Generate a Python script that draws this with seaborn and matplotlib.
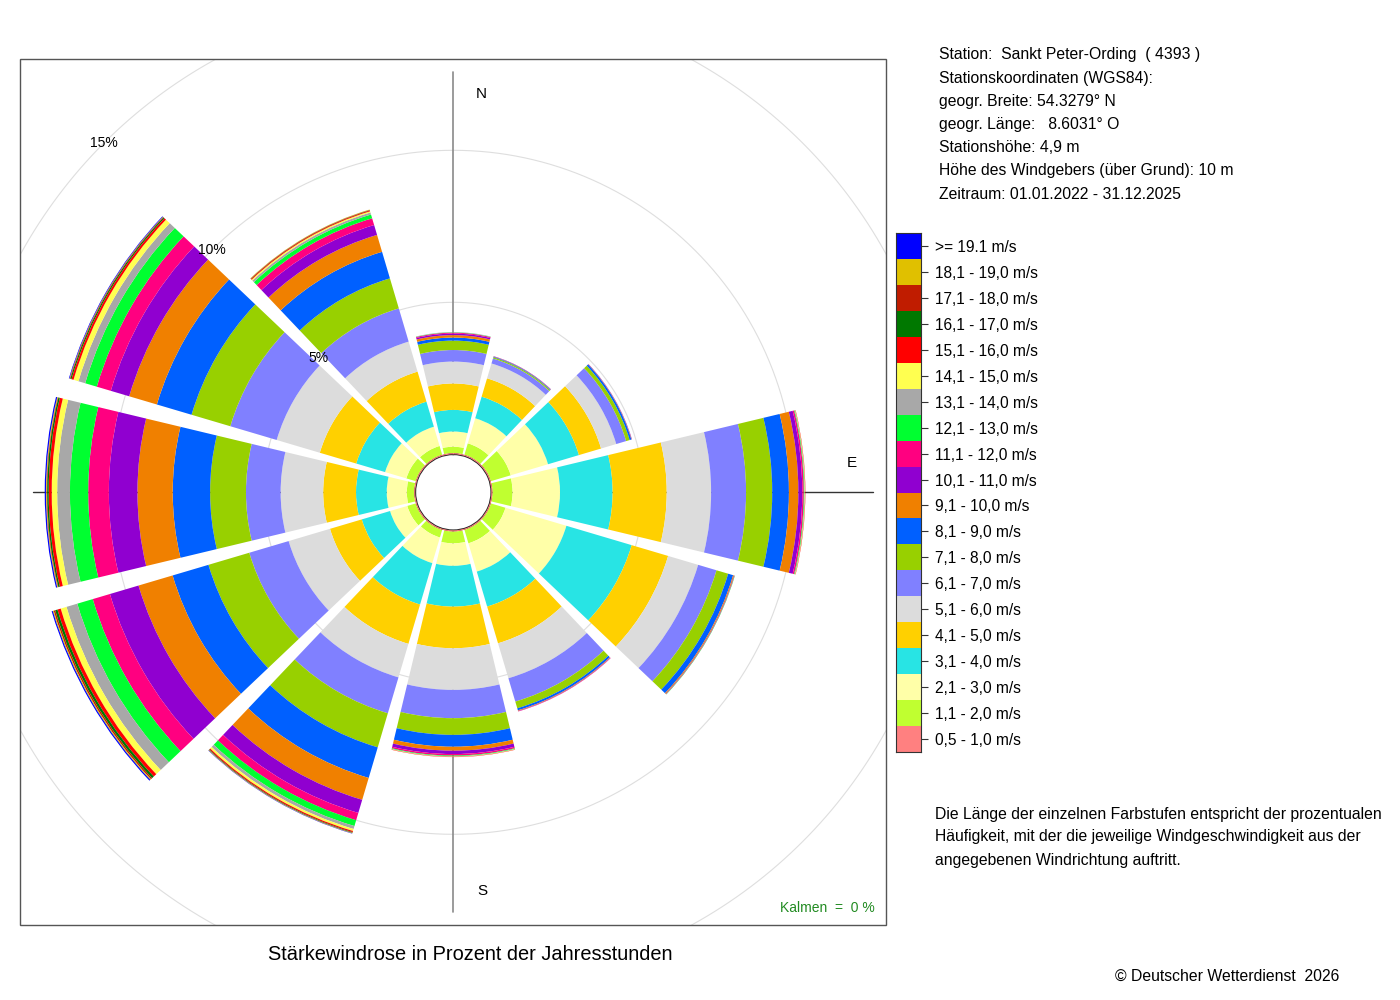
import numpy as np
import pandas as pd
import matplotlib
matplotlib.use('Agg')
import matplotlib.pyplot as plt
from matplotlib.colors import ListedColormap
from matplotlib.patches import Rectangle
import seaborn as sns

# wind directions (deg) and speed classes, low -> high
directions = [0, 30, 60, 90, 120, 150, 180, 210, 240, 270, 300, 330]
speed_classes = ['0,5 - 1,0 m/s', '1,1 - 2,0 m/s', '2,1 - 3,0 m/s', '3,1 - 4,0 m/s',
                 '4,1 - 5,0 m/s', '5,1 - 6,0 m/s', '6,1 - 7,0 m/s', '7,1 - 8,0 m/s',
                 '8,1 - 9,0 m/s', '9,1 - 10,0 m/s', '10,1 - 11,0 m/s', '11,1 - 12,0 m/s',
                 '12,1 - 13,0 m/s', '13,1 - 14,0 m/s', '14,1 - 15,0 m/s', '15,1 - 16,0 m/s',
                 '16,1 - 17,0 m/s', '17,1 - 18,0 m/s', '18,1 - 19,0 m/s', '>= 19.1 m/s']
class_colors = ['#ff8080', '#c0ff30', '#ffffa8', '#28e4e4', '#ffd000', '#dcdcdc',
                '#8080ff', '#98d000', '#0060ff', '#f08000', '#9000d0', '#ff0080',
                '#00ff30', '#a8a8a8', '#ffff50', '#ff0000', '#007800', '#c01c00',
                '#e0c000', '#0000ff']

# percent of hours per speed class (same order as speed_classes)
freq_000 = [0.04, 0.21, 0.50, 0.71, 0.87, 0.72, 0.38, 0.31, 0.10, 0.08, 0.05, 0.03, 0.01, 0.01, 0, 0, 0, 0, 0, 0]
freq_030 = [0.04, 0.39, 0.86, 0.74, 0.63, 0.51, 0.17, 0.04, 0.02, 0.01, 0.01, 0, 0, 0, 0, 0, 0, 0, 0, 0]
freq_060 = [0.04, 0.68, 1.28, 1.06, 0.76, 0.52, 0.34, 0.12, 0.06, 0.01, 0.01, 0, 0, 0, 0, 0, 0, 0, 0, 0]
freq_090 = [0.04, 0.66, 1.56, 1.73, 1.78, 1.46, 1.15, 0.86, 0.55, 0.31, 0.13, 0.05, 0.02, 0.01, 0.01, 0.01, 0, 0, 0, 0]
freq_120 = [0.04, 0.50, 2.09, 2.24, 1.25, 1.03, 0.63, 0.40, 0.17, 0.03, 0.01, 0.01, 0.01, 0, 0, 0, 0, 0, 0, 0]
freq_150 = [0.04, 0.46, 0.97, 1.20, 1.26, 1.20, 0.80, 0.23, 0.07, 0.02, 0.01, 0.01, 0, 0, 0, 0, 0, 0, 0, 0]
freq_180 = [0.04, 0.39, 0.74, 1.34, 1.37, 1.37, 0.93, 0.55, 0.39, 0.13, 0.11, 0.05, 0.02, 0.01, 0.01, 0.01, 0, 0, 0, 0]
freq_210 = [0.04, 0.26, 0.88, 1.42, 1.35, 1.15, 1.23, 1.17, 1.05, 0.75, 0.45, 0.25, 0.20, 0.10, 0.07, 0.04, 0.02, 0.01, 0.01, 0.01]
freq_240 = [0.04, 0.29, 0.59, 0.97, 1.09, 1.42, 1.35, 1.40, 1.23, 1.17, 0.98, 0.59, 0.53, 0.37, 0.20, 0.11, 0.08, 0.05, 0.03, 0.04]
freq_270 = [0.04, 0.24, 0.66, 1.01, 1.08, 1.40, 1.14, 1.18, 1.23, 1.16, 0.94, 0.68, 0.60, 0.42, 0.18, 0.10, 0.05, 0.02, 0.02, 0.04]
freq_300 = [0.04, 0.32, 0.73, 0.99, 1.25, 1.48, 1.59, 1.33, 1.19, 0.95, 0.63, 0.48, 0.40, 0.23, 0.17, 0.07, 0.04, 0.02, 0.01, 0.02]
freq_330 = [0.04, 0.30, 0.66, 0.86, 1.03, 1.03, 1.14, 1.03, 0.91, 0.58, 0.34, 0.23, 0.13, 0.07, 0.04, 0.03, 0.01, 0.01, 0.01, 0]

ring_levels = [5, 10, 15]
info_lines = ['Station:  Sankt Peter-Ording  ( 4393 )',
              'Stationskoordinaten (WGS84):',
              'geogr. Breite: 54.3279° N',
              'geogr. Länge:   8.6031° O',
              'Stationshöhe: 4,9 m',
              'Höhe des Windgebers (über Grund): 10 m',
              'Zeitraum: 01.01.2022 - 31.12.2025']
note_lines = ['Die Länge der einzelnen Farbstufen entspricht der prozentualen',
              'Häufigkeit, mit der die jeweilige Windgeschwindigkeit aus der',
              'angegebenen Windrichtung auftritt.']

df = pd.DataFrame([freq_000, freq_030, freq_060, freq_090, freq_120, freq_150,
                   freq_180, freq_210, freq_240, freq_270, freq_300, freq_330],
                  index=directions, columns=speed_classes)

sns.set_theme(style='white')
plt.rcParams['font.family'] = ['Liberation Sans', 'DejaVu Sans']
plt.rcParams['text.color'] = 'black'
plt.rcParams['ytick.labelcolor'] = 'black'

W, H = 1400, 1000
fig = plt.figure(figsize=(14, 10), dpi=100)
fx = lambda px: px / W
fy = lambda py: 1 - py / H

# polar axes: centre at (453, 492) px, 0 % at 38 px, 30.4 px per percent
rmax, rorig = 19, -1.25
cx, cy = 453.3, 492.3
R = 38 + 30.4 * rmax
ax = fig.add_axes([fx(cx - R), fy(cy + R), 2 * R / W, 2 * R / H], projection='polar')
ax.set_theta_zero_location('N')
ax.set_theta_direction(-1)
ax.patch.set_visible(False)
ax.spines['polar'].set_visible(False)
ax.grid(False)
ax.set_xticks([])
ax.set_yticks([])

frame_clip = Rectangle((fx(20), fy(925)), 866 / W, 866 / H, transform=fig.transFigure)

ring_th = np.linspace(0, 2 * np.pi, 721)
for lv in ring_levels:
    ln, = ax.plot(ring_th, np.full_like(ring_th, lv), color='#dedede', lw=0.8, zorder=1)
    ln.set_clip_path(frame_clip)
    ax.text(np.deg2rad(315), lv, f'{lv}%', ha='center', va='center', fontsize=10,
            color='black', zorder=6)

axis_len = 12.57
for ang in [0, np.pi]:
    ax.plot([ang, ang], [rorig, axis_len], color='#8a8a8a', lw=1.2, zorder=1.5)
for ang in [np.pi / 2, 3 * np.pi / 2]:
    ax.plot([ang, ang], [rorig, axis_len], color='#333333', lw=1.0, zorder=1.5)

theta = np.deg2rad(directions)
bottom = np.zeros(len(directions))
for cls, col in zip(speed_classes, class_colors):
    vals = df[cls].values
    bars = ax.bar(theta, vals, width=np.deg2rad(27), bottom=bottom, color=col,
                  linewidth=0, zorder=2, align='center')
    for b in bars:
        b.set_clip_path(frame_clip)
    bottom = bottom + vals

# hole outline
ax.plot(ring_th, np.full_like(ring_th, 0.01), color='#ff8080', lw=1.0, zorder=3)

ax.set_rlim(0, rmax)
ax.set_rorigin(rorig)

fig.add_artist(Rectangle((fx(20), fy(925)), 866 / W, 866 / H, transform=fig.transFigure,
                         fill=False, edgecolor='#555555', lw=1.0, zorder=10))

fig.text(fx(481), fy(94), 'N', ha='center', va='center', fontsize=11)
fig.text(fx(852), fy(463), 'E', ha='center', va='center', fontsize=11)
fig.text(fx(482), fy(891), 'S', ha='center', va='center', fontsize=11)
fig.text(fx(875), fy(908), 'Kalmen  =  0 %', ha='right', va='center', fontsize=10, color='#228b22')
fig.text(fx(470), fy(954), 'Stärkewindrose in Prozent der Jahresstunden', ha='center',
         va='center', fontsize=14.4)

for i, line in enumerate(info_lines):
    fig.text(fx(939), fy(55 + i * 23.2), line, ha='left', va='center', fontsize=11.3)
for i, line in enumerate(note_lines):
    fig.text(fx(935), fy(814 + i * 23), line, ha='left', va='center', fontsize=11.3)
fig.text(fx(1115), fy(976), '© Deutscher Wetterdienst  2026', ha='left', va='center', fontsize=11.3)

# colour legend as a one-column heatmap
ax_leg = fig.add_axes([fx(896), fy(752), 24.7 / W, 519 / H])
leg_df = pd.DataFrame({'k': np.arange(len(class_colors))[::-1]})
sns.heatmap(leg_df, ax=ax_leg, cmap=ListedColormap(class_colors), vmin=-0.5,
            vmax=len(class_colors) - 0.5, cbar=False, xticklabels=False,
            yticklabels=speed_classes[::-1])
ax_leg.yaxis.tick_right()
ax_leg.tick_params(axis='y', which='both', right=True, left=False, length=5, width=0.8,
                   color='#333333', labelcolor='black', pad=5, labelsize=11.2,
                   labelrotation=0, direction='out')
ax_leg.set_ylabel('')
for sp in ax_leg.spines.values():
    sp.set_visible(True)
    sp.set_color('#333333')
    sp.set_linewidth(0.8)

fig.savefig('out.png', dpi=100)
